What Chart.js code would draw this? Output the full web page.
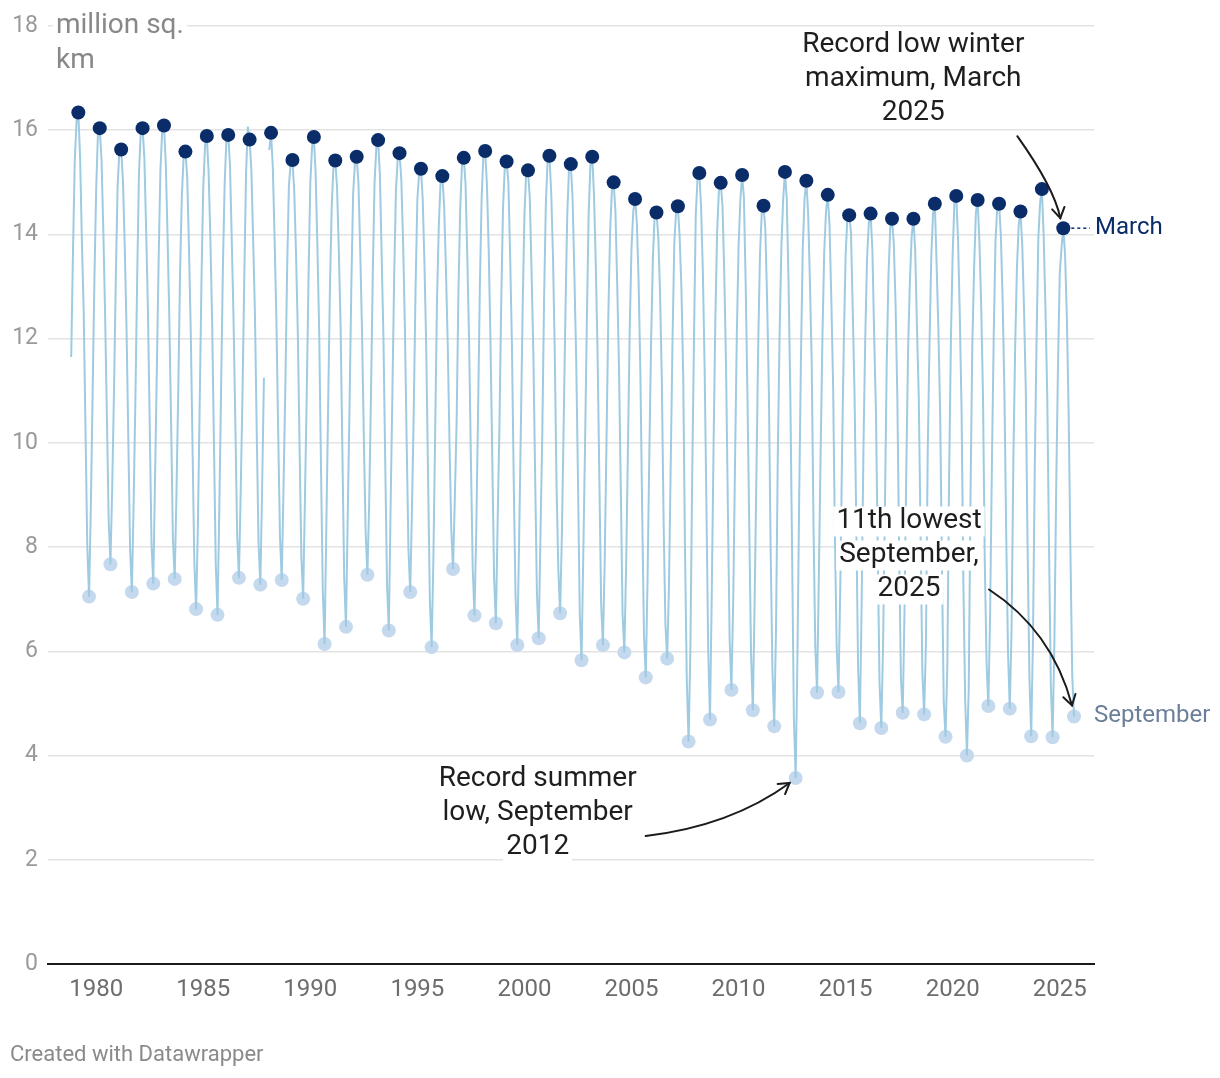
<!DOCTYPE html>
<html>
<head>
<meta charset="utf-8">
<script src="https://cdn.jsdelivr.net/npm/chart.js@4.4.1/dist/chart.umd.min.js"></script>
<style>
  html, body { margin: 0; padding: 0; background: #fff; }
  #wrap { position: relative; width: 1220px; height: 1078px; }
  canvas { display: block; }
  #footer { position: absolute; left: 10px; top: 1041px; font: 22px Roboto, sans-serif; color: #8a8a8a; }
</style>
</head>
<body>
<div id="wrap">
  <canvas id="c" width="1220" height="1078"></canvas>
  <div id="footer">Created with Datawrapper</div>
</div>
<script>
// ---- DATA: monthly Arctic sea ice extent, million sq. km ----
const firstYear = 1978;
const firstMonth = 11; // series starts November 1978
const extent = [
  // 1978 (Nov, Dec)
  11.65, 13.67,
  // 1979
  15.41, 16.18, 16.34, 15.45, 13.86, 12.53, 10.31, 8.04, 7.05, 8.75, 10.94, 13.11,
  // 1980
  14.86, 15.96, 16.04, 15.43, 14.08, 12.47, 10.52, 8.52, 7.67, 9.18, 11.03, 13.15,
  // 1981
  14.91, 15.60, 15.63, 15.04, 13.78, 12.21, 10.10, 7.98, 7.14, 8.86, 10.88, 13.22,
  // 1982
  15.18, 15.97, 16.04, 15.48, 14.09, 12.55, 10.37, 8.08, 7.30, 9.34, 11.42, 13.50,
  // 1983
  15.23, 16.00, 16.09, 15.37, 13.98, 12.37, 10.36, 8.17, 7.39, 9.04, 11.01, 13.26,
  // 1984
  14.73, 15.48, 15.59, 15.12, 13.76, 12.14, 9.93, 7.71, 6.81, 8.40, 10.71, 13.10,
  // 1985
  14.89, 15.70, 15.89, 15.20, 13.92, 12.30, 10.00, 7.69, 6.70, 8.72, 11.02, 13.34,
  // 1986
  14.97, 15.85, 15.91, 15.32, 13.87, 12.33, 10.36, 8.25, 7.41, 9.08, 10.93, 13.16,
  // 1987 (December missing)
  15.19, 16.07, 15.82, 15.22, 13.86, 12.42, 10.16, 8.07, 7.28, 9.13, 11.25, null,
  // 1988 (January missing)
  null, 15.62, 15.95, 15.28, 13.90, 12.36, 10.22, 8.20, 7.37, 9.17, 11.05, 13.32,
  // 1989
  14.93, 15.37, 15.43, 14.84, 13.63, 12.12, 9.90, 7.80, 7.01, 8.95, 10.92, 13.16,
  // 1990
  14.99, 15.69, 15.87, 15.15, 13.74, 12.10, 9.52, 7.16, 6.14, 8.41, 10.71, 12.96,
  // 1991
  14.53, 15.33, 15.42, 14.89, 13.67, 12.19, 9.79, 7.40, 6.47, 8.65, 10.74, 13.02,
  // 1992
  14.78, 15.36, 15.49, 14.97, 13.66, 12.11, 10.10, 8.29, 7.47, 8.85, 10.90, 13.22,
  // 1993
  14.99, 15.66, 15.81, 15.14, 13.58, 11.99, 9.62, 7.27, 6.40, 8.77, 10.95, 13.19,
  // 1994
  14.85, 15.47, 15.56, 15.06, 13.86, 12.23, 10.03, 7.96, 7.14, 8.79, 10.66, 12.98,
  // 1995
  14.68, 15.18, 15.26, 14.68, 13.40, 11.78, 9.34, 6.99, 6.08, 7.81, 10.26, 12.73,
  // 1996
  14.15, 15.01, 15.12, 14.55, 13.34, 11.92, 10.03, 8.34, 7.58, 8.95, 10.41, 12.86,
  // 1997
  14.48, 15.34, 15.47, 14.97, 13.54, 11.94, 9.68, 7.62, 6.69, 8.31, 10.54, 12.95,
  // 1998
  14.68, 15.51, 15.60, 14.95, 13.67, 11.91, 9.66, 7.40, 6.54, 8.50, 10.34, 12.70,
  // 1999
  14.51, 15.30, 15.40, 14.99, 13.57, 11.87, 9.29, 7.07, 6.12, 8.07, 10.28, 12.58,
  // 2000
  14.37, 15.20, 15.23, 14.70, 13.28, 11.73, 9.38, 7.12, 6.25, 8.26, 10.15, 12.73,
  // 2001
  14.58, 15.43, 15.51, 14.81, 13.59, 11.73, 9.18, 7.57, 6.73, 8.25, 10.37, 12.53,
  // 2002
  14.38, 15.29, 15.35, 14.68, 13.22, 11.62, 9.32, 6.74, 5.83, 7.88, 10.01, 12.37,
  // 2003
  14.41, 15.34, 15.49, 14.75, 13.41, 11.71, 9.29, 6.90, 6.12, 7.75, 10.04, 12.40,
  // 2004
  14.03, 14.85, 15.00, 14.45, 13.04, 11.44, 9.14, 6.72, 5.98, 7.65, 9.86, 12.16,
  // 2005
  13.73, 14.45, 14.68, 14.23, 13.09, 11.29, 8.67, 6.30, 5.50, 7.38, 9.79, 11.96,
  // 2006
  13.56, 14.38, 14.42, 13.97, 12.88, 11.20, 8.48, 6.53, 5.86, 7.24, 9.63, 11.98,
  // 2007
  13.84, 14.45, 14.54, 13.94, 12.95, 11.24, 7.91, 5.43, 4.27, 6.03, 9.28, 11.92,
  // 2008
  14.36, 15.07, 15.18, 14.53, 13.28, 11.41, 8.78, 6.02, 4.69, 7.14, 9.95, 12.38,
  // 2009
  14.06, 14.85, 14.99, 14.55, 13.24, 11.45, 8.77, 6.23, 5.26, 6.95, 9.55, 12.01,
  // 2010
  13.76, 14.65, 15.14, 14.71, 13.05, 10.87, 8.41, 5.96, 4.87, 6.92, 9.36, 11.84,
  // 2011
  13.61, 14.41, 14.55, 14.11, 12.75, 10.97, 7.90, 5.63, 4.56, 6.44, 9.78, 12.08,
  // 2012
  13.76, 14.67, 15.20, 14.70, 13.12, 10.94, 7.92, 4.72, 3.57, 5.89, 8.99, 11.70,
  // 2013
  13.76, 14.70, 15.03, 14.40, 13.09, 11.51, 8.45, 6.09, 5.21, 7.45, 9.79, 12.04,
  // 2014
  13.65, 14.44, 14.76, 14.16, 12.73, 11.09, 8.21, 6.08, 5.22, 7.21, 9.78, 11.95,
  // 2015
  13.60, 14.32, 14.37, 14.05, 12.53, 10.93, 8.39, 5.67, 4.62, 6.97, 9.91, 12.00,
  // 2016
  13.53, 14.22, 14.40, 13.71, 12.06, 10.59, 7.94, 5.40, 4.53, 6.12, 8.66, 11.47,
  // 2017
  13.19, 14.12, 14.30, 13.83, 12.65, 10.85, 7.89, 5.47, 4.82, 6.77, 9.46, 11.77,
  // 2018
  13.08, 13.96, 14.30, 13.70, 12.20, 10.86, 8.26, 5.61, 4.79, 6.13, 9.81, 11.88,
  // 2019
  13.56, 14.40, 14.59, 13.42, 12.17, 10.52, 7.58, 5.03, 4.36, 5.73, 9.33, 11.96,
  // 2020
  13.64, 14.66, 14.74, 13.92, 12.43, 10.59, 7.28, 5.07, 4.00, 5.28, 8.99, 11.87,
  // 2021
  13.35, 14.41, 14.66, 13.84, 12.60, 10.86, 7.69, 5.76, 4.95, 6.77, 9.64, 12.03,
  // 2022
  13.88, 14.53, 14.59, 13.99, 12.72, 10.96, 8.26, 5.99, 4.90, 6.42, 9.64, 11.81,
  // 2023
  13.35, 14.18, 14.44, 13.79, 12.56, 10.96, 7.94, 5.52, 4.37, 6.23, 9.52, 11.95,
  // 2024
  13.92, 14.61, 14.87, 13.98, 12.57, 10.89, 7.99, 5.37, 4.35, 6.18, 9.10, 11.43,
  // 2025 (Jan - Sep)
  13.24, 13.75, 14.12, 13.60, 12.39, 10.56, 7.89, 5.53, 4.75
];
const xTickValues = [1980, 1985, 1990, 1995, 2000, 2005, 2010, 2015, 2020, 2025];
const yTickStep = 2;
const yMin = 0, yMax = 18;
const maxMonth = 3, minMonth = 9;
const unitLabel = ['million sq.', 'km'];
const seriesLabels = { max: 'March', min: 'September' };
const annotations = [
  { year: 2025, month: 3, lines: ['Record low winter', 'maximum, March', '2025'] },
  { year: 2025, month: 9, lines: ['11th lowest', 'September,', '2025'] },
  { year: 2012, month: 9, lines: ['Record summer', 'low, September', '2012'] }
];

// ---- derived points ----
const points = extent.map((v, i) => {
  const m = (firstMonth - 1) + i;
  const year = firstYear + Math.floor(m / 12);
  const month = (m % 12) + 1;
  return { x: firstYear + m / 12, y: v, year, month };
});
const maxPts = points.filter(p => p.month === maxMonth && p.y !== null);
const minPts = points.filter(p => p.month === minMonth && p.y !== null);
const findPt = (yr, mo) => points.find(p => p.year === yr && p.month === mo);

const FONT = 'Roboto, "Noto Sans", sans-serif';
const DARK = '#0a2d69';
const LIGHTDOT = '#c5d9ee';
const LINE = '#9ecbe2';

// layout of annotation relative to its target point (pixels)
const annoLayout = [
  { dx: -150, dy: -183, arrow: { s: [-46, -92], c: [-9, -40], e: [-3, -10] } },
  { dx: -165, dy: -195, arrow: { s: [-85, -127], c: [-22, -86], e: [-2, -11] } },
  { dx: -258, dy: 1,   arrow: { s: [-150, 58], c: [-65, 48], e: [-6, 5] } }
];

function drawArrow(ctx, sx, sy, cx, cy, ex, ey) {
  ctx.save();
  ctx.strokeStyle = '#1a1a1a';
  ctx.lineWidth = 2;
  ctx.lineCap = 'round';
  ctx.beginPath();
  ctx.moveTo(sx, sy);
  ctx.quadraticCurveTo(cx, cy, ex, ey);
  ctx.stroke();
  const ang = Math.atan2(ey - cy, ex - cx);
  const L = 12, spread = 0.55;
  ctx.beginPath();
  ctx.moveTo(ex - L * Math.cos(ang - spread), ey - L * Math.sin(ang - spread));
  ctx.lineTo(ex, ey);
  ctx.lineTo(ex - L * Math.cos(ang + spread), ey - L * Math.sin(ang + spread));
  ctx.stroke();
  ctx.restore();
}

const overlay = {
  id: 'overlay',
  afterDatasetsDraw(chart) {
    const ctx = chart.ctx;
    const xs = chart.scales.x, ys = chart.scales.y;
    const area = chart.chartArea;

    // unit label at top-left with white background
    ctx.save();
    ctx.font = '28px ' + FONT;
    ctx.textBaseline = 'middle';
    ctx.textAlign = 'left';
    const ux = area.left + 8;
    const uy0 = ys.getPixelForValue(yMax);
    unitLabel.forEach((t, i) => {
      const w = ctx.measureText(t).width;
      ctx.fillStyle = '#fff';
      ctx.fillRect(ux - 3, uy0 + i * 35 - 16, w + 6, 32);
      ctx.fillStyle = '#888';
      ctx.fillText(t, ux, uy0 + i * 35);
    });
    ctx.restore();

    // series labels at right
    const lastMax = maxPts[maxPts.length - 1];
    const lastMin = minPts[minPts.length - 1];
    const mx = xs.getPixelForValue(lastMax.x), my = ys.getPixelForValue(lastMax.y);
    const ny = ys.getPixelForValue(lastMin.y);
    ctx.save();
    ctx.strokeStyle = DARK;
    ctx.lineWidth = 1.5;
    ctx.setLineDash([3, 3]);
    ctx.beginPath();
    ctx.moveTo(mx + 8, my);
    ctx.lineTo(area.right - 4, my);
    ctx.stroke();
    ctx.setLineDash([]);
    ctx.font = '24px ' + FONT;
    ctx.textBaseline = 'middle';
    ctx.textAlign = 'left';
    ctx.fillStyle = DARK;
    ctx.fillText(seriesLabels.max, area.right + 1, my);
    ctx.fillStyle = '#6c7f98';
    ctx.fillText(seriesLabels.min, area.right, ny);
    ctx.restore();

    // annotations
    annotations.forEach((a, k) => {
      const p = findPt(a.year, a.month);
      const px = xs.getPixelForValue(p.x), py = ys.getPixelForValue(p.y);
      const lay = annoLayout[k];
      ctx.save();
      ctx.font = '28px ' + FONT;
      ctx.textAlign = 'center';
      ctx.textBaseline = 'middle';
      a.lines.forEach((t, i) => {
        const w = ctx.measureText(t).width;
        const cx = px + lay.dx, cy = py + lay.dy + i * 34;
        ctx.fillStyle = '#fff';
        ctx.fillRect(cx - w / 2 - 3, cy - 15, w + 6, 30);
      });
      ctx.fillStyle = '#1e1e1e';
      a.lines.forEach((t, i) => {
        ctx.fillText(t, px + lay.dx, py + lay.dy + i * 34);
      });
      ctx.restore();
      const ar = lay.arrow;
      drawArrow(ctx, px + ar.s[0], py + ar.s[1], px + ar.c[0], py + ar.c[1], px + ar.e[0], py + ar.e[1]);
    });
  }
};

new Chart(document.getElementById('c'), {
  type: 'line',
  data: {
    datasets: [
      {
        label: 'September',
        data: minPts,
        showLine: false,
        pointRadius: 7,
        pointHoverRadius: 7,
        pointBackgroundColor: LIGHTDOT,
        pointBorderWidth: 0,
        order: 3
      },
      {
        label: 'Extent',
        data: points,
        borderColor: LINE,
        borderWidth: 2,
        pointRadius: 0,
        tension: 0,
        spanGaps: false,
        order: 2
      },
      {
        label: 'March',
        data: maxPts,
        showLine: false,
        pointRadius: 7,
        pointHoverRadius: 7,
        pointBackgroundColor: DARK,
        pointBorderWidth: 0,
        order: 1
      }
    ]
  },
  options: {
    responsive: false,
    animation: false,
    events: [],
    parsing: { xAxisKey: 'x', yAxisKey: 'y' },
    layout: { padding: { top: 26, right: 126, left: 0, bottom: 0 } },
    plugins: { legend: { display: false }, tooltip: { enabled: false } },
    scales: {
      x: {
        type: 'linear',
        min: 1977.75,
        max: 2026.6,
        grid: { display: false, drawTicks: false },
        border: { display: true, color: '#1a1a1a', width: 2 },
        ticks: {
          font: { family: FONT, size: 24 },
          color: '#6d6d6d',
          padding: 12,
          maxRotation: 0,
          autoSkip: false,
          callback: v => String(v)
        },
        afterBuildTicks: axis => { axis.ticks = xTickValues.map(v => ({ value: v })); },
        afterFit: s => { s.height = 114; }
      },
      y: {
        min: yMin,
        max: yMax,
        ticks: {
          stepSize: yTickStep,
          font: { family: FONT, size: 23 },
          color: '#9a9a9a',
          padding: 10
        },
        grid: {
          drawTicks: false,
          color: c => (c.tick && c.tick.value === 0) ? 'rgba(0,0,0,0)' : '#e3e3e3',
          lineWidth: 1.5
        },
        border: { display: false },
        afterFit: s => { s.width = 48; }
      }
    }
  },
  plugins: [overlay]
});
</script>
</body>
</html>
